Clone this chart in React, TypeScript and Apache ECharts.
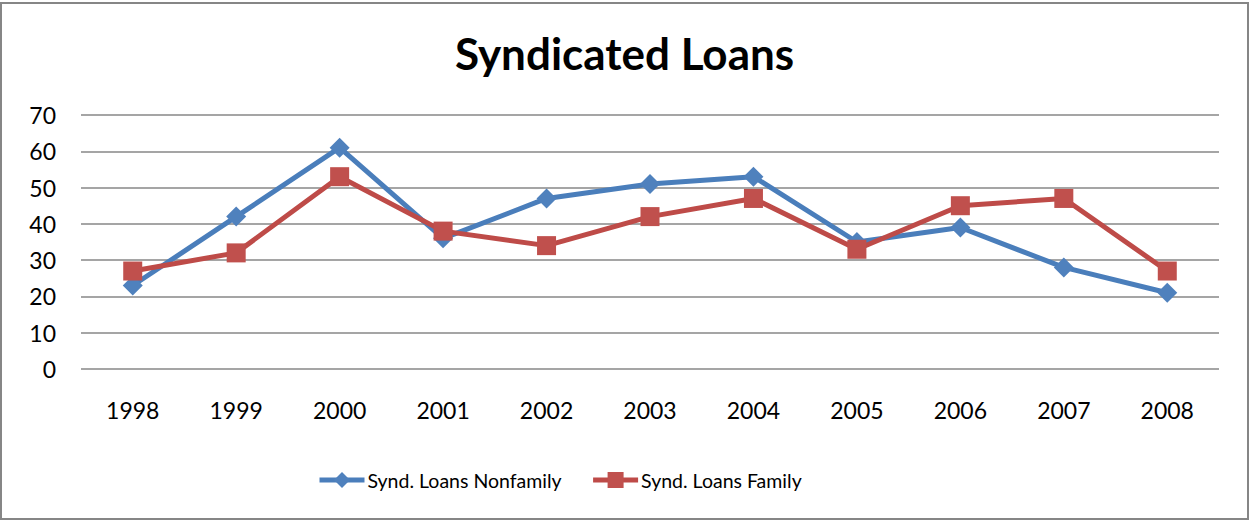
import React, { useEffect, useRef } from "react";
import * as echarts from "echarts";

const years = ["1998", "1999", "2000", "2001", "2002", "2003", "2004", "2005", "2006", "2007", "2008"];
const nonfamily = [23, 42, 61, 36, 47, 51, 53, 35, 39, 28, 21];
const family = [27, 32, 53, 38, 34, 42, 47, 33, 45, 47, 27];
const yMin = 0;
const yMax = 70;
const yStep = 10;

const FONT = "Lato";

export default function App() {
  const ref = useRef<HTMLDivElement>(null);
  useEffect(() => {
    if (!ref.current) return;
    const chart = echarts.init(ref.current, undefined, { renderer: "svg" });
    chart.setOption({
      animation: false,
      backgroundColor: "#ffffff",
      textStyle: { fontFamily: FONT },
      title: {
        text: "Syndicated Loans",
        left: "center",
        top: 26,
        textStyle: { fontFamily: FONT, fontWeight: "bold", fontSize: 44, color: "#000" },
      },
      graphic: [
        {
          type: "rect",
          shape: { x: 1, y: 3, width: 1247, height: 516 },
          style: { fill: "none", stroke: "#868686", lineWidth: 2 },
          silent: true,
          z: -1,
        },
      ],
      legend: {
        left: 312,
        top: 465,
        itemWidth: 45,
        itemHeight: 20,
        itemGap: 29,
        itemSymbolSize: 16,
        lineStyle: { width: 5 },
        textStyle: { fontFamily: FONT, fontSize: 19.5, color: "#000", padding: [0, 0, 0, -2] },
        data: ["Synd. Loans Nonfamily", "Synd. Loans Family"],
      },
      grid: { left: 81, right: 30, top: 115, bottom: 151, containLabel: false },
      xAxis: {
        type: "category",
        data: years,
        boundaryGap: true,
        axisLine: { show: false },
        axisTick: { show: false },
        axisLabel: { color: "#000", fontSize: 23, fontFamily: FONT, margin: 29 },
        splitLine: { show: false },
      },
      yAxis: {
        type: "value",
        min: yMin,
        max: yMax,
        interval: yStep,
        axisLine: { show: false },
        axisTick: { show: false },
        axisLabel: { color: "#000", fontSize: 23, fontFamily: FONT, margin: 25 },
        splitLine: { lineStyle: { color: "#878787", width: 1.5 } },
      },
      series: [
        {
          name: "Synd. Loans Nonfamily",
          type: "line",
          data: nonfamily,
          symbol: "diamond",
          symbolSize: [20, 20],
          lineStyle: { color: "#4A7EBB", width: 5 },
          itemStyle: { color: "#4F81BD" },
          z: 2,
        },
        {
          name: "Synd. Loans Family",
          type: "line",
          data: family,
          symbol: "rect",
          symbolSize: [19, 19],
          lineStyle: { color: "#BE4B48", width: 5 },
          itemStyle: { color: "#C0504D" },
          z: 3,
        },
      ],
    });
    return () => chart.dispose();
  }, []);
  return (
    <div
      ref={ref}
      style={{ position: "fixed", left: 0, top: 0, width: 1249, height: 520, background: "#fff" }}
    />
  );
}
